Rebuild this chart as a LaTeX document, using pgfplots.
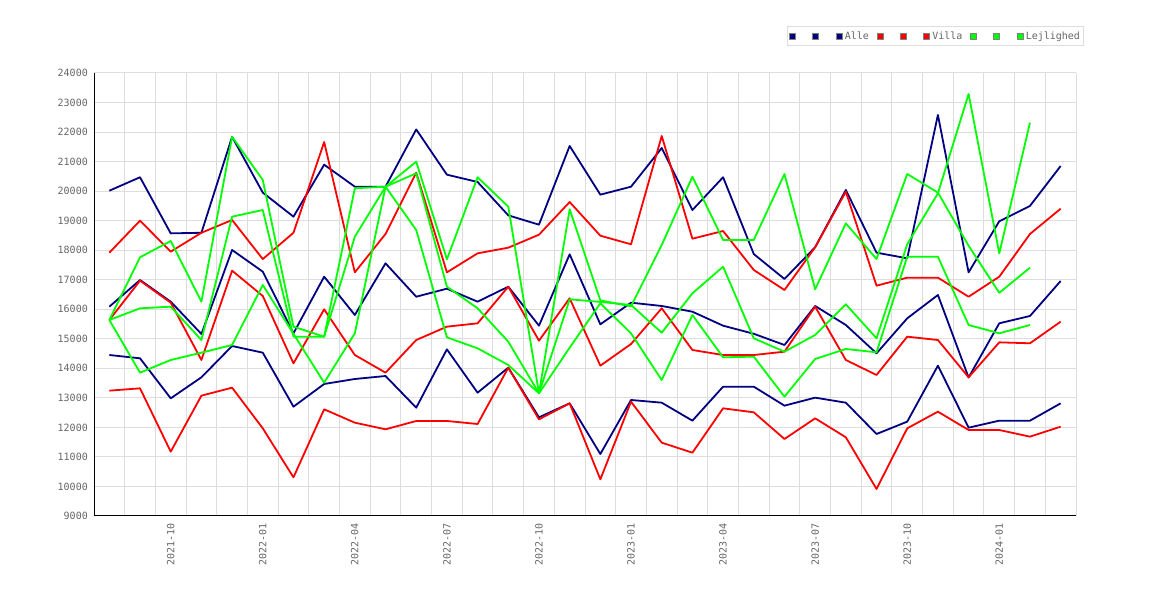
\documentclass[border=0pt]{standalone}
\usepackage{fontspec}
\setmainfont{DejaVu Sans Mono}
\usepackage{pgfplots}
\usepackage{pgfplotstable}
\pgfplotsset{compat=1.18}
\definecolor{navyc}{RGB}{0,0,128}
\definecolor{redc}{RGB}{255,0,0}
\definecolor{limec}{RGB}{0,255,0}
\definecolor{gridc}{RGB}{221,221,221}
\definecolor{txtc}{RGB}{102,102,102}
\pgfplotstableread{
x ahi amid alo vhi vmid vlo g1 g2 g3
0 20015 16088 14451 17916 15637 13244 15637 15637 15637
1 20470 16991 14339 19000 16968 13323 17760 16032 13853
2 18570 16257 12984 17950 16223 11178 18312 16088 14282
3 18590 15163 13696 18590 14282 13074 16256 14959 14530
4 21840 18007 14756 19023 17307 13345 21840 19135 14790
5 19950 17273 14530 17700 16449 11968 20377 19360 16822
6 19135 15186 12702 18590 14169 10309 15411 15072 15168
7 20895 17103 13470 21660 15998 12612 15072 15072 13514
8 20150 15806 13639 17250 14451 12160 20096 18457 15186
9 20150 17556 13740 18550 13853 11935 20150 20150 20150
10 22090 16425 12668 20625 14959 12217 20997 20603 18684
11 20557 16697 14643 17250 15411 12217 17691 16765 15050
12 20310 16257 13176 17894 15524 12115 20470 16032 14677
13 19180 16765 14023 18085 16765 14023 19474 14903 14113
14 18864 15444 12341 18525 14937 12273 13154 13154 13154
15 21530 17860 12815 19632 16371 12815 19385 16337 14700
16 19880 15490 11099 18491 14090 10242 16300 16250 16200
17 20150 16223 12928 18200 14824 12871 16100 16144 15186
18 21460 16111 12837 21867 16032 11483 18176 15207 13605
19 19360 15918 12228 18389 14621 11144 20489 16540 15806
20 20470 15444 13379 18650 14451 12646 18345 17442 14373
21 17870 15170 13379 17330 14451 12510 18345 15016 14395
22 17025 14790 12736 16652 14564 11607 20580 14564 13040
23 18100 16111 13007 18100 16088 12307 16676 15129 14316
24 20040 15467 12837 19981 14282 11664 18910 16167 14655
25 17916 14508 11777 16798 13774 9914 17702 15016 14542
26 17725 15693 12194 17070 15072 11968 20580 18200 17780
27 22580 16483 14090 17070 14959 12533 19950 19925 17780
28 17250 13690 11991 16425 13696 11912 18150 23289 15467
29 18980 15525 12228 17103 14880 11912 16557 17894 15186
30 19500 15772 12228 18549 14848 11686 17408 22318 15467
31 20850 16957 12815 19405 15580 12025 nan nan nan
}\data
\begin{document}
\begin{tikzpicture}
\useasboundingbox (0,0) rectangle (1170bp,600bp);
\begin{axis}[
  at={(94bp,84bp)}, anchor=south west,
  scale only axis, width=982bp, height=443bp,
  xmin=-0.5, xmax=31.5, ymin=9000, ymax=24000,
  axis x line*=bottom, axis y line*=left,
  axis line style={-, black, line width=1bp},
  xtick={2,5,...,29},
  xticklabels={2021-10,2022-01,2022-04,2022-07,2022-10,2023-01,2023-04,2023-07,2023-10,2024-01},
  minor xtick={0.5,1.5,...,31.5},
  ytick={9000,10000,...,24000},
  scaled y ticks=false,
  xminorgrids=true, ymajorgrids=true,
  grid style={gridc, line width=1bp},
  minor grid style={gridc, line width=1bp},
  major tick length=0pt, minor tick length=0pt,
  tick label style={font=\fontsize{10bp}{12bp}\selectfont, text=txtc},
  yticklabel style={inner sep=0pt, anchor=east}, yticklabel shift=6bp,
  xticklabel style={rotate=90, anchor=east, inner sep=0pt}, xticklabel shift=7bp,
  /pgf/number format/assume math mode=true,
  /pgf/number format/1000 sep={},
  every axis plot/.append style={line width=1.8bp, line join=round, mark=none},
  unbounded coords=discard,
  legend columns=9,
  legend image code/.code={\filldraw[#1, draw=gray, line width=0.6bp] (0bp,-3bp) rectangle (6bp,3bp);},
  legend style={at={(1,1)}, anchor=south east, xshift=8bp, yshift=27bp,
    draw=gridc, line width=1bp, fill=white,
    font=\fontsize{10bp}{12bp}\selectfont, text=txtc,
    inner xsep=1.5bp, inner ysep=3bp,
    /tikz/every odd column/.append style={column sep=0.7bp},
    /tikz/every even column/.append style={column sep=5.5bp},
    cells={anchor=west, inner xsep=0.85bp, inner ysep=1bp}},
  legend entries={\hspace*{6.5bp},\hspace*{6.5bp},Alle,\hspace*{6.5bp},\hspace*{6.5bp},Villa,\hspace*{6.5bp},\hspace*{6.5bp},Lejlighed},
]
\addplot[color=navyc] table[x=x,y=ahi]{\data};
\addplot[color=navyc] table[x=x,y=amid]{\data};
\addplot[color=navyc] table[x=x,y=alo]{\data};
\addplot[color=redc] table[x=x,y=vhi]{\data};
\addplot[color=redc] table[x=x,y=vmid]{\data};
\addplot[color=redc] table[x=x,y=vlo]{\data};
\addplot[color=limec] table[x=x,y=g1]{\data};
\addplot[color=limec] table[x=x,y=g2]{\data};
\addplot[color=limec] table[x=x,y=g3]{\data};
\end{axis}
\end{tikzpicture}
\end{document}
